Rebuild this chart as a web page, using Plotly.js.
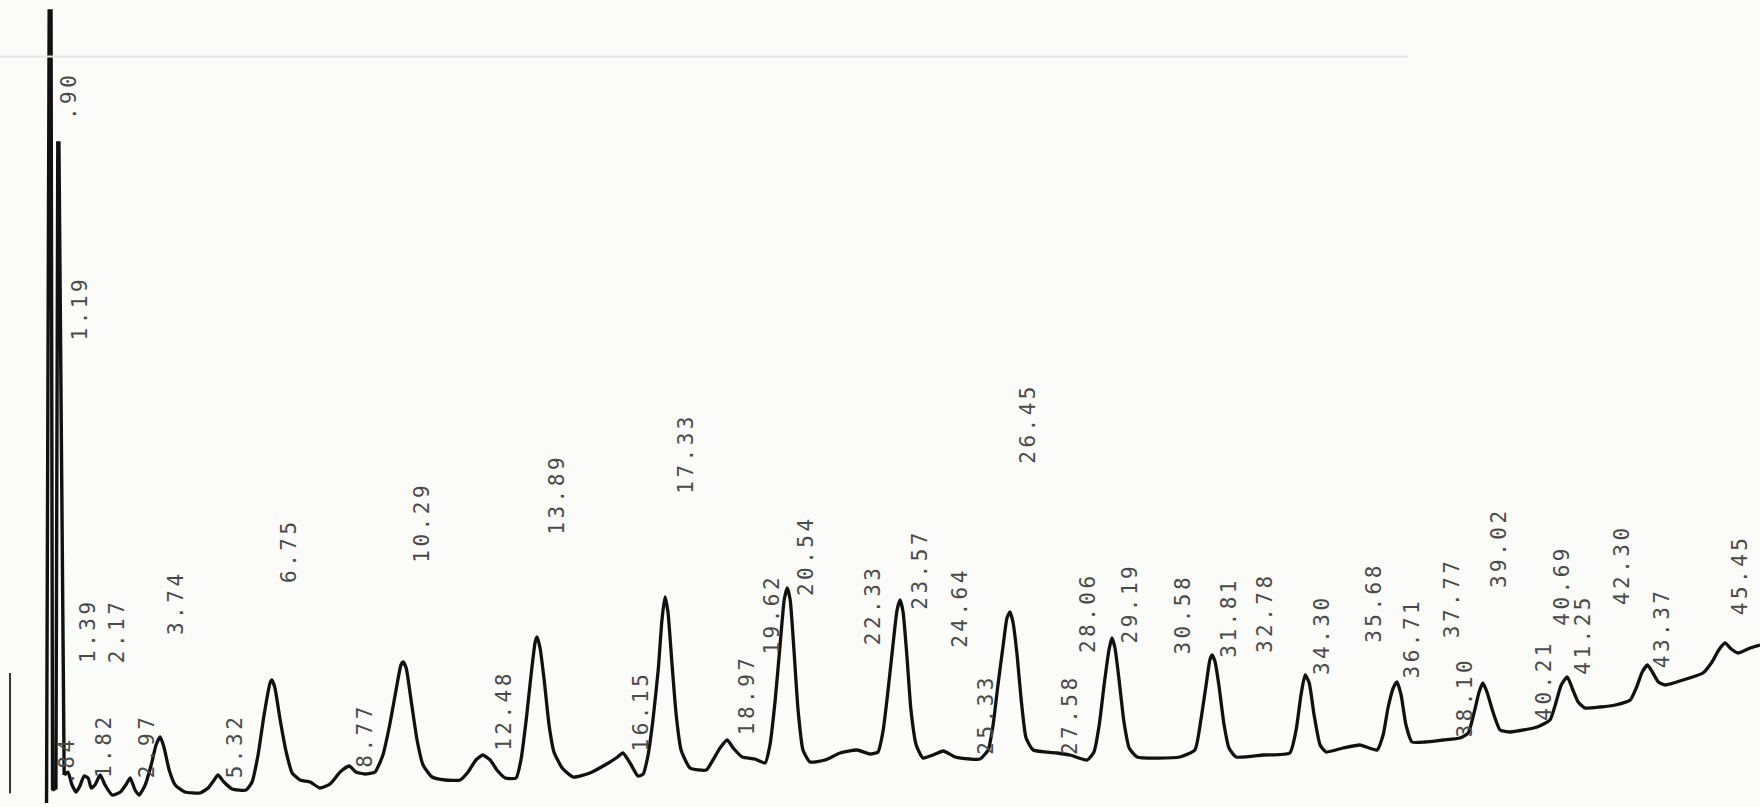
<!DOCTYPE html>
<html>
<head>
<meta charset="utf-8">
<script src="https://cdn.plot.ly/plotly-3.0.1.min.js"></script>
<style>
  html, body { margin: 0; padding: 0; background: #fbfbfa; }
  #chart { width: 1760px; height: 807px; }
</style>
</head>
<body>
<div id="chart"></div>
<script>
// Solvent front (off-scale pen strokes), time in min, signal in counts
const solventTime   = [0.70, 0.77, 0.82, 0.86, 0.95, 1.00, 1.03, 1.17];
const solventSignal = [4,    796,  796,  17,   19,   664,  664,  32];

// Chromatogram trace
const time = [1.17, 1.27, 1.38, 1.49, 1.59, 1.70, 1.81, 1.89, 1.99, 2.13, 2.26, 2.45, 2.67, 2.83, 2.93, 3.06, 3.17, 3.33, 3.49, 3.62,
  3.73, 3.83, 3.97, 4.13, 4.39, 4.79, 5.01, 5.17, 5.27, 5.43, 5.65, 6.02, 6.18, 6.34, 6.50, 6.66, 6.71, 6.79, 6.93, 7.09,
  7.25, 7.46, 7.73, 7.99, 8.26, 8.53, 8.77, 8.95, 9.19, 9.46, 9.67, 9.85, 10.02, 10.15, 10.21, 10.29, 10.42, 10.58, 10.74, 10.98,
  11.33, 11.73, 11.94, 12.15, 12.33, 12.53, 12.71, 12.93, 13.22, 13.35, 13.49, 13.62, 13.73, 13.78, 13.86, 13.97, 14.10, 14.23, 14.45, 14.74,
  15.19, 15.59, 15.89, 16.07, 16.26, 16.47, 16.61, 16.74, 16.87, 17.01, 17.11, 17.19, 17.27, 17.38, 17.49, 17.62, 17.86, 18.29, 18.47, 18.66,
  18.85, 19.01, 19.25, 19.59, 19.86, 19.99, 20.13, 20.26, 20.37, 20.45, 20.53, 20.63, 20.74, 20.87, 21.06, 21.46, 21.86, 22.31, 22.66, 22.87,
  23.01, 23.14, 23.27, 23.38, 23.46, 23.54, 23.64, 23.75, 23.89, 24.07, 24.34, 24.61, 24.93, 25.33, 25.59, 25.81, 25.94, 26.07, 26.21, 26.31,
  26.39, 26.47, 26.58, 26.69, 26.82, 27.01, 27.65, 27.99, 28.45, 28.63, 28.77, 28.90, 29.03, 29.11, 29.19, 29.30, 29.43, 29.57, 29.78, 30.92,
  31.32, 31.48, 31.62, 31.72, 31.78, 31.86, 31.96, 32.10, 32.23, 32.42, 33.14, 33.85, 34.02, 34.15, 34.26, 34.37, 34.50, 34.66, 34.82, 35.27,
  35.72, 36.18, 36.34, 36.47, 36.61, 36.71, 36.82, 36.95, 37.11, 37.46, 37.94, 38.39, 38.61, 38.77, 38.90, 39.00, 39.11, 39.27, 39.46, 39.73,
  40.45, 40.79, 40.93, 41.09, 41.25, 41.38, 41.54, 41.72, 42.13, 42.53, 42.93, 43.09, 43.25, 43.39, 43.52, 43.68, 43.86, 44.34, 44.87, 45.11,
  45.29, 45.46, 45.62, 45.81, 46.13, 46.39];
const signal = [32, 35, 22, 15, 21, 31, 29, 19, 22, 32, 22, 12, 15, 23, 29, 17, 12, 22, 42, 62,
  70, 60, 37, 22, 15, 14, 19, 27, 32, 25, 18, 17, 25, 52, 92, 124, 127, 119, 87, 55,
  34, 27, 25, 19, 23, 35, 41, 35, 33, 35, 52, 82, 117, 142, 145, 139, 107, 67, 42, 30,
  27, 27, 35, 47, 52, 47, 37, 29, 29, 47, 87, 132, 165, 170, 159, 127, 82, 55, 39, 30,
  34, 42, 49, 54, 44, 31, 33, 52, 87, 137, 187, 210, 195, 142, 92, 57, 39, 37, 47, 59,
  67, 59, 50, 48, 44, 62, 107, 162, 207, 219, 207, 157, 97, 57, 45, 47, 54, 57, 53, 55,
  77, 117, 162, 197, 207, 195, 152, 97, 62, 49, 52, 56, 50, 48, 48, 57, 82, 122, 162, 189,
  195, 185, 152, 107, 69, 57, 54, 52, 47, 55, 82, 122, 157, 169, 159, 127, 85, 59, 50, 50,
  57, 87, 122, 147, 152, 145, 122, 82, 59, 50, 52, 54, 77, 112, 132, 124, 92, 62, 55, 59,
  62, 57, 72, 99, 119, 125, 112, 82, 65, 65, 67, 69, 74, 95, 115, 124, 115, 95, 77, 75,
  80, 87, 102, 122, 130, 119, 105, 99, 100, 102, 107, 119, 135, 142, 135, 125, 122, 127, 134, 145,
  157, 164, 158, 154, 159, 162];

// Printed retention times and the level at which each label starts
const peakLabels = ['.84', '.90', '1.19', '1.39', '1.82', '2.17', '2.97', '3.74', '5.32', '6.75',
  '8.77', '10.29', '12.48', '13.89', '16.15', '17.33', '18.97', '19.62', '20.54', '22.33',
  '23.57', '24.64', '25.33', '26.45', '27.58', '28.06', '29.19', '30.58', '31.81', '32.78',
  '34.30', '35.68', '36.71', '37.77', '38.10', '39.02', '40.21', '40.69', '41.25', '42.30',
  '43.37', '45.45'];
const peakTimes = [0.84, 0.90, 1.19, 1.39, 1.82, 2.17, 2.97, 3.74, 5.32, 6.75,
  8.77, 10.29, 12.48, 13.89, 16.15, 17.33, 18.97, 19.62, 20.54, 22.33,
  23.57, 24.64, 25.33, 26.45, 27.58, 28.06, 29.19, 30.58, 31.81, 32.78,
  34.30, 35.68, 36.71, 37.77, 38.10, 39.02, 40.21, 40.69, 41.25, 42.30,
  43.37, 45.45];
const labelLevel = [20, 685, 465, 142, 27, 142, 27, 170, 27, 222,
  37, 242, 54, 270, 54, 311, 70, 150, 209, 160,
  195, 157, 50, 341, 50, 152, 162, 150, 147, 152,
  130, 162, 127, 167, 67, 217, 84, 179, 130, 200,
  137, 190];

const traces = [
  {
    x: solventTime, y: solventSignal, type: 'scatter', mode: 'lines',
    line: { color: '#111', width: 3.4, shape: 'linear' }, hoverinfo: 'skip'
  },
  {
    x: time, y: signal, type: 'scatter', mode: 'lines',
    line: { color: '#111', width: 3.3, shape: 'spline', smoothing: 0.5 }, hoverinfo: 'x+y'
  }
];

const annotations = peakLabels.map((lab, i) => ({
  x: peakTimes[i], y: labelLevel[i], xref: 'x', yref: 'y',
  text: '<span style="letter-spacing:3.5px">' + lab + '</span>',
  showarrow: false, textangle: -90,
  xanchor: 'left', yanchor: 'bottom', xshift: 1,
  font: { family: 'DejaVu Sans Mono, monospace', size: 21, color: '#4a4a4a' }
}));

const layout = {
  width: 1760, height: 807,
  margin: { l: 0, r: 0, t: 0, b: 0 },
  paper_bgcolor: '#fbfbfa', plot_bgcolor: '#fbfbfa',
  showlegend: false,
  xaxis: { range: [-0.541, 46.39], visible: false, fixedrange: true },
  yaxis: { range: [0, 807], visible: false, fixedrange: true },
  annotations: annotations,
  shapes: [
    { type: 'line', xref: 'paper', yref: 'paper', x0: 0.0057, x1: 0.0057, y0: 0.017, y1: 0.166,
      line: { color: '#333', width: 2 } },
    { type: 'line', xref: 'paper', yref: 'paper', x0: 0, x1: 0.8, y0: 0.93, y1: 0.93,
      line: { color: '#e3e5e7', width: 2 } }
  ]
};

Plotly.newPlot('chart', traces, layout, { displayModeBar: false, staticPlot: true });
</script>
</body>
</html>
